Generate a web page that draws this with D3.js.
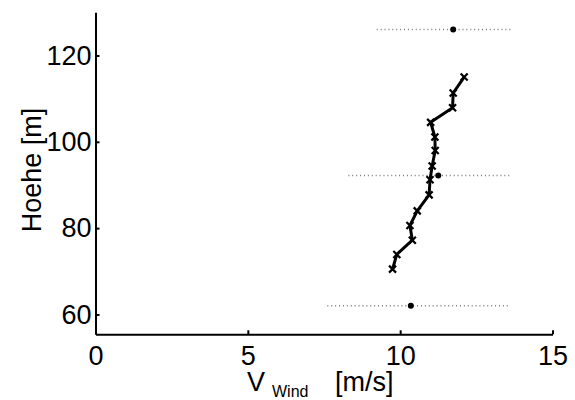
<!DOCTYPE html>
<html lang="de">
<head>
<meta charset="UTF-8">
<title>Windprofil</title>
<style>
  body { margin: 0; background: #fff; }
  svg { display: block; }
  text { font-family: 'Liberation Sans', Arial, sans-serif; fill: #000; }
</style>
</head>
<body>
<svg width="575" height="400"></svg>
<script src="https://cdn.jsdelivr.net/npm/d3@7"></script>
<script>
// Profil (Linie mit x-Markern)
const hoehe = [70.5, 73.9, 77.2, 80.6, 84.0, 87.7, 91.2, 94.4, 98.0, 101.1, 104.5, 107.9, 111.3, 115.0];
const vWind = [9.75, 9.89, 10.40, 10.32, 10.56, 10.95, 10.98, 11.05, 11.15, 11.14, 11.00, 11.72, 11.74, 12.10];

// Mittelwerte mit Streubereich (gepunktet)
const refHoehe = [62, 92.2, 126];
const refMittel = [10.35, 11.25, 11.74];
const refMin = [7.61, 8.30, 9.23];
const refMax = [13.53, 13.60, 13.70];

const xTicks = [0, 5, 10, 15];
const yTicks = [60, 80, 100, 120];

const svg = d3.select("svg");
const x = d3.scaleLinear().domain([0, 15]).range([95.5, 552.5]);
const y = d3.scaleLinear().domain([55.4, 130]).range([334.3, 12.3]);
const font = "'Liberation Sans', Arial, sans-serif";

// Streubereiche
svg.selectAll(".range")
  .data(refHoehe)
  .enter().append("line")
  .attr("x1", (d, i) => x(refMin[i]))
  .attr("x2", (d, i) => x(refMax[i]))
  .attr("y1", d => y(d))
  .attr("y2", d => y(d))
  .attr("stroke", "#7a7a7a")
  .attr("stroke-width", 1.6)
  .attr("stroke-dasharray", "1,2.9");

svg.selectAll(".mean")
  .data(refHoehe)
  .enter().append("circle")
  .attr("cx", (d, i) => x(refMittel[i]))
  .attr("cy", d => y(d))
  .attr("r", 3)
  .attr("fill", "#000");

// Profil
const pts = hoehe.map((h, i) => [vWind[i], h]);
svg.append("path")
  .datum(pts)
  .attr("fill", "none")
  .attr("stroke", "#000")
  .attr("stroke-width", 3)
  .attr("stroke-linejoin", "round")
  .attr("d", d3.line().x(d => x(d[0])).y(d => y(d[1])));

const s = 3.5;
svg.selectAll(".marker")
  .data(pts)
  .enter().append("path")
  .attr("transform", d => `translate(${x(d[0])},${y(d[1])})`)
  .attr("d", `M${-s},${-s}L${s},${s}M${-s},${s}L${s},${-s}`)
  .attr("stroke", "#000")
  .attr("stroke-width", 2.2);

// Achsen
const xAxis = svg.append("g")
  .attr("transform", `translate(0,${y.range()[0]})`)
  .call(d3.axisBottom(x).tickValues(xTicks).tickSizeInner(-4).tickSizeOuter(0));
const yAxis = svg.append("g")
  .attr("transform", `translate(${x.range()[0]},0)`)
  .call(d3.axisLeft(y).tickValues(yTicks).tickSizeInner(-4).tickSizeOuter(0).tickPadding(4));

[xAxis, yAxis].forEach(g => {
  g.select(".domain").attr("stroke-width", 2);
  g.selectAll(".tick line").attr("stroke-width", 2);
  g.selectAll(".tick text").attr("font-size", 27).attr("font-family", font);
});
xAxis.selectAll(".tick text").attr("dy", null).attr("y", 31);

// Beschriftungen
svg.append("text")
  .attr("transform", "translate(41,170) rotate(-90)")
  .attr("text-anchor", "middle")
  .attr("font-size", 27)
  .text("Hoehe [m]");

const xl = svg.append("text")
  .attr("x", 247)
  .attr("y", 391)
  .attr("font-size", 27);
xl.append("tspan").text("V");
xl.append("tspan").attr("font-size", 16).attr("x", 272).attr("dy", 6).text("Wind");
xl.append("tspan").attr("x", 335).attr("dy", -6).text("[m/s]");
</script>
</body>
</html>
